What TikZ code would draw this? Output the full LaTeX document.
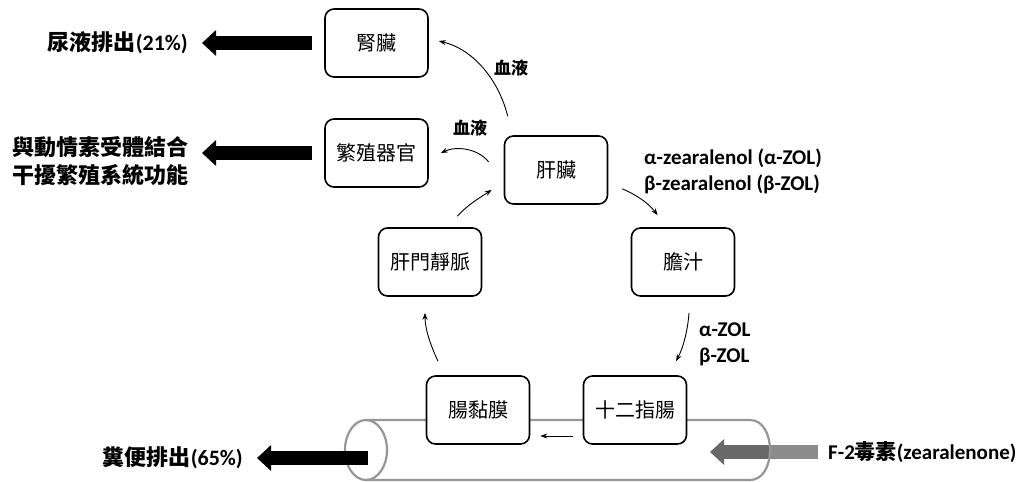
\documentclass[tikz,border=0pt]{standalone}
\usepackage{fontspec}
\newfontfamily\cjk{Noto Sans CJK TC}
\newfontfamily\carl{Carlito}
\usetikzlibrary{arrows.meta,calc}
\definecolor{tubegray}{RGB}{150,150,150}
\definecolor{darkarrow}{RGB}{104,104,104}
\definecolor{lightarrow}{RGB}{140,140,140}
\begin{document}
\begin{tikzpicture}[x=1pt,y=-1pt,
  box/.style={draw, line width=1.6pt, rounded corners=9pt, minimum width=103pt, minimum height=68pt, fill=white, inner sep=0pt, font=\cjk\fontsize{20}{24}\selectfont},
  lab/.style={inner sep=0pt, font=\fontsize{22}{28}\selectfont},
  bigarrow/.style={line width=14pt, -{Triangle[length=14pt,width=25pt]}},
  thinarrow/.style={line width=0.9pt, -{Stealth[length=7pt,width=5pt]}},
  tube/.style={draw=tubegray, line width=2.2pt},
  blood/.style={inner sep=0pt, font=\cjk\bfseries\fontsize{17}{20}\selectfont},
  met/.style={inner sep=0pt, anchor=west, align=left, font=\carl\bfseries\fontsize{21}{26}\selectfont}]
\useasboundingbox (0,0) rectangle (1026,482);

% labels
\node[lab, anchor=east] (urine) at (188,43) {{\cjk\bfseries 尿液排出}{\carl\bfseries (21\%)}};
\node[lab, anchor=east, align=left] (horm) at (189,161) {{\cjk\bfseries 與動情素受體結合}\\{\cjk\bfseries 干擾繁殖系統功能}};
\node[lab, anchor=east] (feces) at (243,458) {{\cjk\bfseries 糞便排出}{\carl\bfseries (65\%)}};
\node[lab, anchor=west, font=\fontsize{21}{26}\selectfont] (f2) at (828,452) {{\carl\bfseries F-2}{\cjk\bfseries 毒素}{\carl\bfseries (zearalenone)}};

% F-2 arrow (behind tube)
\coordinate (f2tip) at (710,452);
\coordinate (tubecap) at (770,452);
\draw[bigarrow, draw=darkarrow, shorten <=10pt] (f2.west) -- (f2tip);
\draw[line width=14pt, lightarrow, shorten <=10pt] (f2.west) -- (tubecap);

% tube
\draw[tube] (366,450) ellipse [x radius=21pt, y radius=30pt];
\draw[tube] (366,420) -- (750,420) .. controls (776.7,420) and (776.7,480) .. (750,480) -- (366,480);

% boxes
\node[box] (kid) at (376.5,43) {腎臟};
\node[box] (rep) at (376.5,153) {繁殖器官};
\node[box] (liver) at (556,170) {肝臟};
\node[box] (bile) at (683,262) {膽汁};
\node[box] (portal) at (430,262) {肝門靜脈};
\node[box] (mucosa) at (478,410) {腸黏膜};
\node[box] (duod) at (635,410) {十二指腸};

% big arrows
\draw[bigarrow, shorten <=12pt, shorten >=14pt] (kid.west) -- (urine.east);
\draw[bigarrow, shorten <=12pt, shorten >=13pt] (rep.west) -- (rep.west -| horm.east);
\coordinate (fs) at (368,458);
\draw[bigarrow, shorten >=14pt] (fs) -- (feces.east);

% small labels
\node[blood] (blood1) at (511,68) {血液};
\node[blood] (blood2) at (470,128) {血液};
\node[met] (zol) at (644,171) {α-zearalenol (α-ZOL)\\β-zearalenol (β-ZOL)};
\node[met] (zol2) at (699,344) {α-ZOL\\β-ZOL};

% thin arrows
\draw[thinarrow] ($(liver.north west)+(4,-19)$) .. controls +(-8,-33) and +(37,9) .. ($(kid.east)+(10,-2)$);
\draw[thinarrow] ($(liver.west)+(-15,-8)$) .. controls +(-11,-14) and +(15,-7) .. ($(rep.east)+(12,0)$);
\draw[thinarrow] ($(portal.north east)+(-25,-11)$) .. controls +(11,-12) and +(-12,8) .. ($(liver.south west)+(-12,-15)$);
\draw[thinarrow] ($(liver.south east)+(14,-16)$) .. controls +(12,5) and +(-10,-13) .. ($(bile.north west)+(27,-12)$);
\draw[thinarrow] ($(bile.south)+(6,16)$) .. controls +(-1,15) and +(8,-15) .. ($(duod.north)+(41,-14)$);
\draw[thinarrow] ($(duod.west)+(-10,26)$) -- ($(mucosa.east)+(10,26)$);
\draw[thinarrow] ($(mucosa.north)+(-40,-14)$) .. controls +(-7,-15) and +(0,17) .. ($(portal.south)+(-5,16)$);
\end{tikzpicture}
\end{document}
